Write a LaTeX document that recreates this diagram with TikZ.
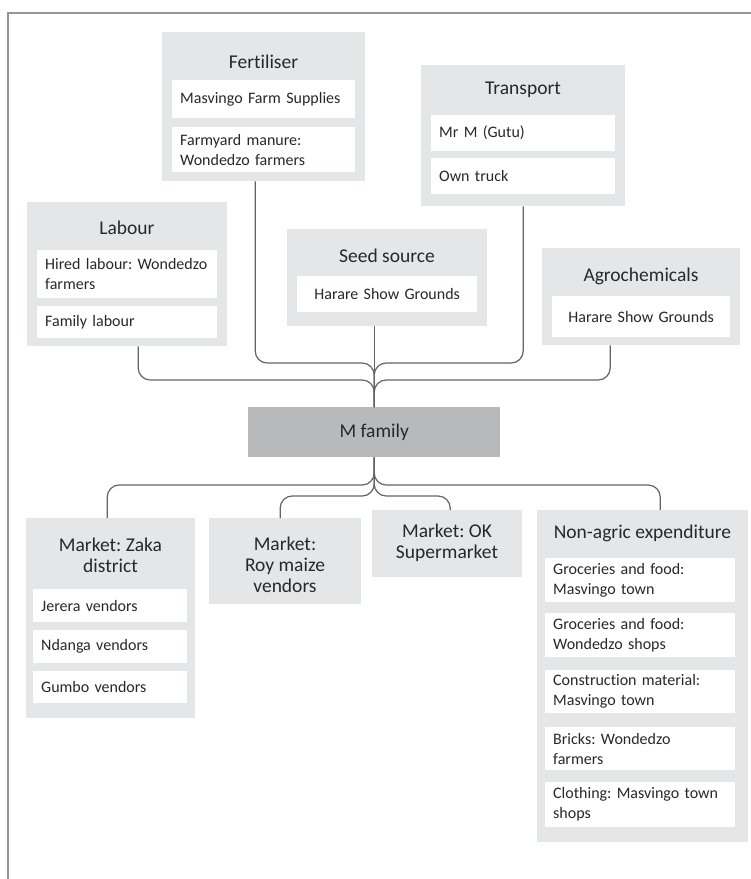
\documentclass[tikz,border=0pt]{standalone}
\usepackage{fontspec}
\setmainfont{Carlito}[Ligatures=NoCommon]
\usetikzlibrary{positioning,calc}
\frenchspacing
\hyphenpenalty=10000
\exhyphenpenalty=10000
\definecolor{boxgrey}{RGB}{229,230,232}
\definecolor{famgrey}{RGB}{184,185,187}
\definecolor{linegrey}{RGB}{100,100,100}
\definecolor{framegrey}{RGB}{150,150,150}
\definecolor{inkgrey}{RGB}{40,40,40}
\tikzset{
  outer/.style={fill=boxgrey,anchor=north west,inner sep=0pt},
  head/.style={font=\fontsize{19.5}{21}\selectfont,text=inkgrey,align=center},
  item/.style={fill=white,anchor=north west,inner xsep=8pt,inner ysep=0pt,
    text width=#1,align=left,font=\fontsize{16}{20}\selectfont,text=inkgrey},
  fam/.style={fill=famgrey,anchor=north west,inner sep=0pt,
    font=\fontsize{19.5}{21}\selectfont,text=inkgrey},
  link/.style={linegrey,line width=1.2pt,rounded corners=12pt},
}

\begin{document}
\begin{tikzpicture}[x=1pt,y=-1pt]
\useasboundingbox (0,0) rectangle (751,879);
% frame
\draw[framegrey,line width=1.5pt] (8,879) -- (8,13) -- (751,13);

% fertiliser
\node[outer,minimum width=203pt,minimum height=149pt] (fert) at (162,32) {};
\node[head] (fert-t) at (263.5,62) {Fertiliser};
\node[item=167pt,minimum height=38pt] (fert-1) at (172,80) {Masvingo Farm Supplies};
\node[item=167pt,minimum height=45pt] (fert-2) at (172,127) {Farmyard manure:\\Wondedzo farmers};

% transport
\node[outer,minimum width=204pt,minimum height=141pt] (trans) at (421,65) {};
\node[head] (trans-t) at (523,90) {Transport};
\node[item=168pt,minimum height=36pt] (trans-1) at (431,115) {Mr M (Gutu)};
\node[item=168pt,minimum height=36pt] (trans-2) at (431,158) {Own truck};

% labour
\node[outer,minimum width=200pt,minimum height=144pt] (lab) at (27,202) {};
\node[head] (lab-t) at (127,228) {Labour};
\node[item=164pt,minimum height=48pt] (lab-1) at (37,250) {Hired labour: Wondedzo\\farmers};
\node[item=164pt,minimum height=32pt] (lab-2) at (37,306) {Family labour};

% seed source
\node[outer,minimum width=200pt,minimum height=97pt] (seed) at (287,229) {};
\node[head] (seed-t) at (387,256) {Seed source};
\node[item=164pt,align=center,minimum height=36pt] (seed-1) at (297,276) {Harare Show Grounds};

% agrochemicals
\node[outer,minimum width=198pt,minimum height=97pt] (agro) at (542,248) {};
\node[head] (agro-t) at (641,276) {Agrochemicals};
\node[item=162pt,align=center,minimum height=41pt] (agro-1) at (552,296) {Harare Show Grounds};

% household
\node[fam,minimum width=252pt,minimum height=50pt] (fam) at (248,407) {M family};

% markets
\node[outer,minimum width=169pt,minimum height=200pt] (zaka) at (26,518) {};
\node[head] (zaka-t) at (110.5,555) {Market: Zaka\\district};
\node[item=138pt,minimum height=33pt] (zaka-1) at (33,589) {Jerera vendors};
\node[item=138pt,minimum height=33pt] (zaka-2) at (33,630) {Ndanga vendors};
\node[item=138pt,minimum height=32pt] (zaka-3) at (33,671) {Gumbo vendors};

\node[outer,minimum width=152pt,minimum height=86pt] (roy) at (209,518) {};
\node[head] (roy-t) at (285,565) {Market:\\Roy maize\\vendors};

\node[outer,minimum width=150pt,minimum height=67pt] (ok) at (372,510) {};
\node[head] (ok-t) at (447,543) {Market: OK\\Supermarket};

% non-agric spending
\node[outer,minimum width=211pt,minimum height=332pt] (nonag) at (537,510) {};
\node[head] (nonag-t) at (642.5,533) {Non-agric expenditure};
\node[item=174pt,minimum height=44pt] (nonag-1) at (545,558) {Groceries and food:\\Masvingo town};
\node[item=174pt,minimum height=44pt] (nonag-2) at (545,613) {Groceries and food:\\Wondedzo shops};
\node[item=174pt,minimum height=43pt] (nonag-3) at (545,670) {Construction material:\\Masvingo town};
\node[item=174pt,minimum height=43pt] (nonag-4) at (545,727) {Bricks: Wondedzo\\farmers};
\node[item=174pt,minimum height=45pt] (nonag-5) at (545,782) {Clothing: Masvingo town\\shops};

% levels of the branch lines
\coordinate (hi) at (0,363);
\coordinate (lo) at (0,380);
\coordinate (dhi) at (0,485);
\coordinate (dlo) at (0,496);
\coordinate (lab-o) at ([xshift=11pt]lab.south);
\coordinate (fert-o) at ([xshift=-8.5pt]fert.south);
\coordinate (trans-o) at (trans.south);
\coordinate (agro-o) at ([xshift=-31pt]agro.south);
\coordinate (zaka-i) at ([xshift=-3.5pt]zaka.north);
\coordinate (roy-i) at ([xshift=-5pt]roy.north);
\coordinate (ok-i) at ([xshift=3pt]ok.north);
\coordinate (nonag-i) at ([xshift=17.5pt]nonag.north);

% inputs into the family
\draw[link] (lab-o) -- (lab-o |- lo) -- (fam.north |- lo) -- (fam.north);
\draw[link] (fert-o) -- (fert-o |- hi) -- (fam.north |- hi) -- (fam.north);
\draw[link] (seed.south -| fam.north) -- (fam.north);
\draw[link] (trans-o) -- (trans-o |- hi) -- (fam.north |- hi) -- (fam.north);
\draw[link] (agro-o) -- (agro-o |- lo) -- (fam.north |- lo) -- (fam.north);

% outputs from the family
\draw[link] (fam.south) -- (fam.south |- dhi) -- (zaka-i |- dhi) -- (zaka-i);
\draw[link] (fam.south) -- (fam.south |- dlo) -- (roy-i |- dlo) -- (roy-i);
\draw[link] (fam.south) -- (fam.south |- dlo) -- (ok-i |- dlo) -- (ok-i);
\draw[link] (fam.south) -- (fam.south |- dhi) -- (nonag-i |- dhi) -- (nonag-i);
\end{tikzpicture}
\end{document}
